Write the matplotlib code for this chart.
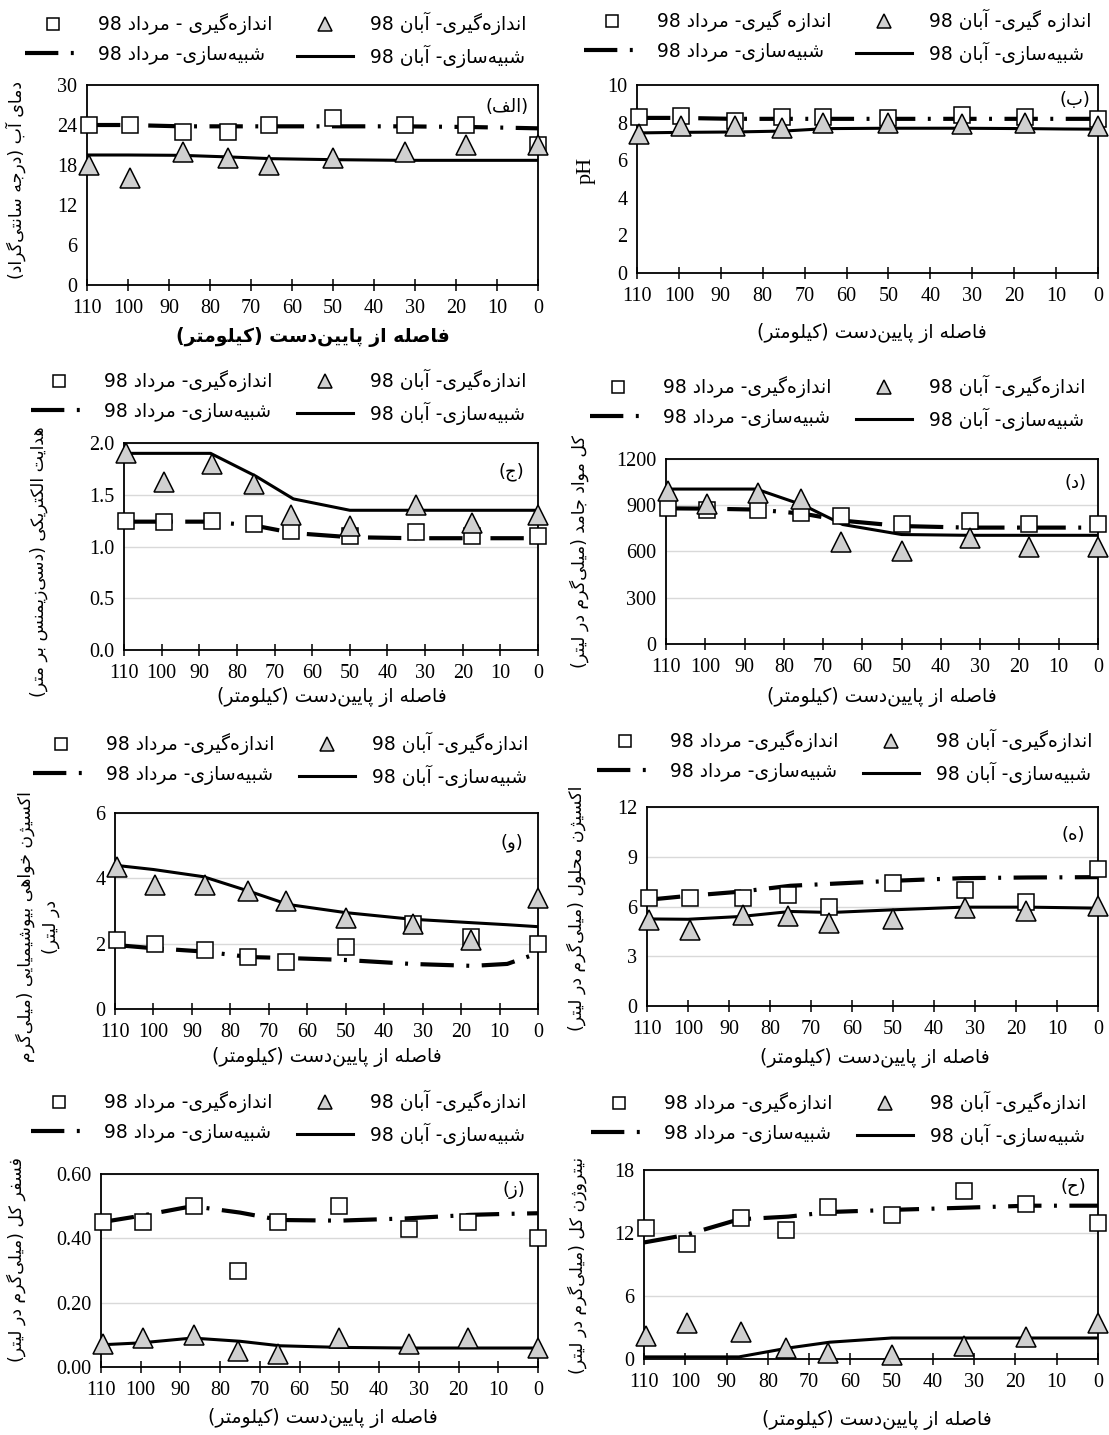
import re
import matplotlib
matplotlib.use('Agg')
import matplotlib.pyplot as plt
from matplotlib.ticker import FormatStrFormatter, MultipleLocator

# ---------------- data ----------------
X_MEAS = [109.5, 99.5, 86.5, 75.5, 65.5, 50, 32.5, 17.5, 0]
X_SIM = [110, 100, 87, 75, 65, 50, 33, 17, 8, 0]

temp_aban = [18, 16, 20, 19, 18, 19, 20, 21, 21]
temp_mordad = [24, 24, 23, 23, 24, 25, 24, 24, 21]
temp_aban_sim = [19.5, 19.5, 19.45, 19.2, 18.95, 18.8, 18.7, 18.7, 18.7, 18.7]
temp_mordad_sim = [24.0, 24.0, 23.8, 23.8, 23.8, 23.8, 23.8, 23.7, 23.6, 23.5]

ph_aban = [7.4, 7.8, 7.8, 7.7, 8.0, 8.0, 7.9, 8.0, 7.8]
ph_mordad = [8.3, 8.35, 8.1, 8.3, 8.3, 8.25, 8.4, 8.3, 8.2]
ph_aban_sim = [7.45, 7.48, 7.5, 7.55, 7.68, 7.7, 7.7, 7.68, 7.66, 7.65]
ph_mordad_sim = [8.25, 8.25, 8.2, 8.2, 8.2, 8.2, 8.2, 8.2, 8.2, 8.2]

ec_aban = [1.9, 1.62, 1.8, 1.6, 1.3, 1.2, 1.4, 1.23, 1.3]
ec_mordad = [1.25, 1.24, 1.25, 1.22, 1.15, 1.1, 1.14, 1.1, 1.1]
ec_aban_sim = [1.9, 1.9, 1.9, 1.68, 1.46, 1.35, 1.35, 1.35, 1.35, 1.35]
ec_mordad_sim = [1.24, 1.24, 1.24, 1.2, 1.13, 1.09, 1.08, 1.08, 1.08, 1.08]

tds_aban = [995, 910, 980, 940, 660, 600, 690, 630, 630]
tds_mordad = [880, 870, 870, 850, 830, 780, 800, 780, 780]
tds_aban_sim = [1005, 1005, 1005, 900, 775, 710, 705, 705, 705, 705]
tds_mordad_sim = [880, 878, 872, 845, 800, 765, 755, 755, 755, 755]

bod_aban = [4.35, 3.8, 3.8, 3.6, 3.3, 2.8, 2.6, 2.1, 3.4]
bod_mordad = [2.1, 2.0, 1.8, 1.6, 1.45, 1.9, 2.6, 2.2, 2.0]
bod_aban_sim = [4.4, 4.27, 4.05, 3.6, 3.2, 2.95, 2.75, 2.64, 2.58, 2.52]
bod_mordad_sim = [1.96, 1.86, 1.76, 1.59, 1.56, 1.5, 1.38, 1.32, 1.38, 1.71]

do_aban = [5.2, 4.6, 5.5, 5.4, 5.0, 5.25, 5.9, 5.7, 6.05]
do_mordad = [6.5, 6.5, 6.5, 6.7, 6.0, 7.4, 7.0, 6.25, 8.25]
do_aban_sim = [5.25, 5.23, 5.4, 5.7, 5.64, 5.8, 5.96, 5.96, 5.93, 5.9]
do_mordad_sim = [6.4, 6.64, 6.9, 7.25, 7.37, 7.55, 7.71, 7.75, 7.76, 7.77]

tp_aban = [0.07, 0.09, 0.10, 0.05, 0.04, 0.09, 0.07, 0.09, 0.06]
tp_mordad = [0.45, 0.45, 0.50, 0.30, 0.45, 0.50, 0.43, 0.45, 0.40]
tp_aban_sim = [0.069, 0.075, 0.09, 0.08, 0.066, 0.061, 0.059, 0.059, 0.059, 0.059]
tp_mordad_sim = [0.45, 0.47, 0.50, 0.48, 0.457, 0.455, 0.462, 0.473, 0.476, 0.478]

tn_aban = [2.15, 3.4, 2.6, 1.05, 0.57, 0.38, 1.2, 2.1, 3.4]
tn_mordad = [12.5, 11.0, 13.4, 12.3, 14.5, 13.7, 16.0, 14.8, 13.0]
tn_aban_sim = [0.2, 0.2, 0.2, 1.05, 1.6, 2.0, 2.0, 2.0, 2.0, 2.0]
tn_mordad_sim = [11.1, 11.8, 13.3, 13.56, 14.0, 14.2, 14.4, 14.6, 14.6, 14.6]

LEG_MEAS_MORDAD = "اندازه‌گیری- مرداد 98"
LEG_MEAS_ABAN = "اندازه‌گیری- آبان 98"
LEG_SIM_MORDAD = "شبیه‌سازی- مرداد 98"
LEG_SIM_ABAN = "شبیه‌سازی- آبان 98"
XLABEL = "فاصله از پایین‌دست (کیلومتر)"

# ---------------- persian shaping (matplotlib has no text shaping) ----------------
DUAL = {'ب': 0xFE8F, 'ت': 0xFE95, 'ث': 0xFE99, 'ج': 0xFE9D, 'ح': 0xFEA1, 'خ': 0xFEA5,
        'س': 0xFEB1, 'ش': 0xFEB5, 'ص': 0xFEB9, 'ض': 0xFEBD, 'ط': 0xFEC1, 'ظ': 0xFEC5,
        'ع': 0xFEC9, 'غ': 0xFECD, 'ف': 0xFED1, 'ق': 0xFED5, 'ل': 0xFEDD, 'م': 0xFEE1,
        'ن': 0xFEE5, 'ه': 0xFEE9, 'ئ': 0xFE89, 'پ': 0xFB56, 'چ': 0xFB7A, 'ک': 0xFB8E,
        'گ': 0xFB92, 'ی': 0xFBFC}
RIGHT = {'آ': 0xFE81, 'أ': 0xFE83, 'ؤ': 0xFE85, 'إ': 0xFE87, 'ا': 0xFE8D, 'ة': 0xFE93,
         'د': 0xFEA9, 'ذ': 0xFEAB, 'ر': 0xFEAD, 'ز': 0xFEAF, 'و': 0xFEED, 'ژ': 0xFB8A}
MIRROR = str.maketrans('()', ')(')


def shape(s):
    out = []
    for i, c in enumerate(s):
        if c not in DUAL and c not in RIGHT:
            out.append(c)
            continue
        prev = s[i - 1] if i > 0 else ''
        nxt = s[i + 1] if i + 1 < len(s) else ''
        jp = prev in DUAL
        jn = c in DUAL and (nxt in DUAL or nxt in RIGHT)
        base = DUAL.get(c, RIGHT.get(c))
        if jp and jn:
            code = base + 3
        elif jp:
            code = base + 1
        elif jn:
            code = base + 2
        else:
            code = base
        out.append(chr(code))
    return ''.join(out).replace('\u200c', '')


def fa(text):
    lines = []
    for line in text.split('\n'):
        line = shape(line.replace('ي', 'ی').replace('ك', 'ک'))
        runs = re.findall(r'[0-9A-Za-z.]+|[^0-9A-Za-z.]+', line)
        vis = []
        for r in reversed(runs):
            if re.match(r'[0-9A-Za-z]', r):
                vis.append(r)
            else:
                vis.append(r[::-1].translate(MIRROR))
        lines.append(''.join(vis))
    return '\n'.join(lines)


# ---------------- figure ----------------
W, H = 1109, 1435
fig = plt.figure(figsize=(W / 100, H / 100), dpi=100)
FA = ['DejaVu Sans']
SERIF = 'Liberation Serif'
DASHDOT = (0, (8, 3, 0.7, 3))


def panel(box, aban, mordad, aban_sim, mordad_sim, ylim, ystep, fmt, ylabel, ylab_xy,
          tag, tag_xy, xlab_xy, leg_xy, grid=True, bold_x=False, serif_ylabel=False,
          leg_meas_m=LEG_MEAS_MORDAD, leg_meas_a=LEG_MEAS_ABAN):
    L, T, R, B = box
    ax = fig.add_axes([L / W, 1 - B / H, (R - L) / W, (B - T) / H])
    fx = lambda px: (px - L) / (R - L)
    fy = lambda py: (B - py) / (B - T)

    l_ms, = ax.plot(X_SIM, mordad_sim, color='black', lw=3.0, ls=DASHDOT, zorder=2)
    l_as, = ax.plot(X_SIM, aban_sim, color='black', lw=2.2, zorder=2)
    l_m, = ax.plot(X_MEAS, mordad, ls='none', marker='s', ms=11.5, mfc='white',
                   mec='black', mew=1.1, zorder=3, clip_on=False)
    l_a, = ax.plot(X_MEAS, aban, ls='none', marker='^', ms=14, mfc='#d0d0d0',
                   mec='black', mew=1.1, zorder=4, clip_on=False)

    ax.set_xlim(110, 0)
    ax.set_ylim(*ylim)
    ax.xaxis.set_major_locator(MultipleLocator(10))
    ax.yaxis.set_major_locator(MultipleLocator(ystep))
    ax.yaxis.set_major_formatter(FormatStrFormatter(fmt))
    ax.tick_params(axis='x', direction='inout', length=8, width=1.1, pad=6,
                   labelsize=14.5)
    ax.tick_params(axis='y', length=0, pad=7, labelsize=14.5)
    for lab in ax.get_xticklabels() + ax.get_yticklabels():
        lab.set_family(SERIF)
    for sp in ax.spines.values():
        sp.set_linewidth(1.3)
    if grid:
        ax.yaxis.grid(True, color='#d9d9d9', lw=1.0)
        ax.set_axisbelow(True)

    if serif_ylabel:
        ax.set_ylabel(ylabel, family=SERIF, fontsize=16)
    else:
        ax.set_ylabel(fa(ylabel), family=FA, fontsize=12.5, linespacing=1.5)
    ax.yaxis.label.set_va('center')
    ax.yaxis.set_label_coords(fx(ylab_xy[0]), fy(ylab_xy[1]))

    ax.set_xlabel(fa(XLABEL), family=FA, fontsize=13.5,
                  fontweight='bold' if bold_x else 'normal')
    ax.xaxis.label.set_va('center')
    ax.xaxis.set_label_coords(fx(xlab_xy[0]), fy(xlab_xy[1]))

    ax.text(fx(tag_xy[0]), fy(tag_xy[1]), fa(tag), transform=ax.transAxes,
            ha='center', va='center', family=FA, fontsize=13)

    fig.legend([l_m, l_ms, l_a, l_as],
               [fa(leg_meas_m), fa(LEG_SIM_MORDAD), fa(leg_meas_a), fa(LEG_SIM_ABAN)],
               ncol=2, loc='center', bbox_to_anchor=(leg_xy[0] / W, 1 - leg_xy[1] / H),
               frameon=False, prop={'family': FA, 'size': 13.5}, handlelength=3.0,
               handletextpad=0.9, columnspacing=1.3, labelspacing=0.5,
               markerscale=0.75)
    return ax


panel((87, 85, 538, 285), temp_aban, temp_mordad, temp_aban_sim, temp_mordad_sim,
      (0, 30), 6, '%d', "دمای آب (درجه سانتی‌گراد)", (16, 180),
      "(الف)", (507, 107), (313, 337), (276, 40), grid=False, bold_x=True,
      leg_meas_m="اندازه‌گیری - مرداد 98")
panel((637, 85, 1098, 273), ph_aban, ph_mordad, ph_aban_sim, ph_mordad_sim,
      (0, 10), 2, '%d', "pH", (586, 170),
      "(ب)", (1075, 100), (872, 333), (838, 37), grid=False, serif_ylabel=True,
      leg_meas_m="اندازه گیری- مرداد 98", leg_meas_a="اندازه گیری- آبان 98")
panel((124, 443, 538, 650), ec_aban, ec_mordad, ec_aban_sim, ec_mordad_sim,
      (0, 2), 0.5, '%.1f', "هدایت الکتریکی (دسی‌زیمنس بر متر)", (39, 562),
      "(ج)", (511, 472), (332, 697), (279, 397))
panel((666, 459, 1098, 644), tds_aban, tds_mordad, tds_aban_sim, tds_mordad_sim,
      (0, 1200), 300, '%d', "کل مواد جامد (میلی‌گرم در لیتر)", (579, 552),
      "(د)", (1075, 483), (882, 697), (838, 403))
panel((115, 813, 538, 1009), bod_aban, bod_mordad, bod_aban_sim, bod_mordad_sim,
      (0, 6), 2, '%d', "اکسیژن خواهی بیوشیمیایی (میلی‌گرم\nدر لیتر)", (38, 927),
      "(و)", (512, 843), (327, 1057), (281, 760))
panel((647, 807, 1098, 1006), do_aban, do_mordad, do_aban_sim, do_mordad_sim,
      (0, 12), 3, '%d', "اکسیژن محلول (میلی‌گرم در لیتر)", (576, 908),
      "(ه)", (1073, 835), (875, 1058), (845, 757))
panel((101, 1174, 538, 1367), tp_aban, tp_mordad, tp_aban_sim, tp_mordad_sim,
      (0, 0.6), 0.2, '%.2f', "فسفر کل (میلی‌گرم در لیتر)", (16, 1260),
      "(ز)", (514, 1190), (323, 1418), (279, 1118))
panel((644, 1170, 1098, 1359), tn_aban, tn_mordad, tn_aban_sim, tn_mordad_sim,
      (0, 18), 6, '%d', "نیتروژن کل (میلی‌گرم در لیتر)", (577, 1265),
      "(ح)", (1073, 1187), (877, 1420), (839, 1119))

fig.savefig('out.png', dpi=100, facecolor='white')
